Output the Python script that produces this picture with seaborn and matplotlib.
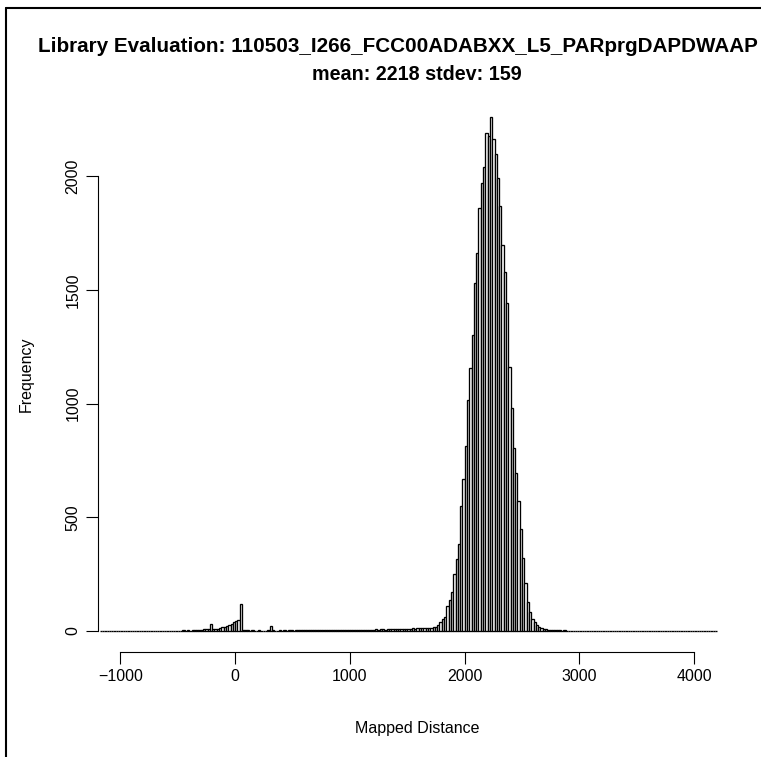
import numpy as np
import pandas as pd
import matplotlib
matplotlib.use("Agg")
import matplotlib.pyplot as plt
import seaborn as sns
from matplotlib.lines import Line2D

# ---------------- data (20-unit bins, counts) -------------
bin_width = 20

left_tail_start = -1180
left_tail_counts = [1, 0, 0, 1, 0, 0, 1, 0, 1, 0,
                    0, 1, 0, 1, 0, 1, 1, 0, 1, 0,
                    1, 1, 0, 1, 1, 1, 2, 1, 1, 2,
                    1, 2, 1, 2, 2, 2, 3, 2, 3]

near_zero_start = -400
near_zero_counts = [2, 3, 3, 4, 5, 6, 8, 9, 10, 32,
                    10, 8, 9, 12, 17, 19, 22, 28, 33, 40,
                    44, 47, 117, 6, 5]

plateau_start = 100
plateau_counts = [3, 2, 3, 2, 2, 3, 2, 2, 1, 3,
                  24, 3, 2, 2, 3, 2, 3, 2, 3, 3,
                  2, 3, 4, 3, 3, 4, 3, 4, 3, 4,
                  4, 3, 4, 5, 4, 4, 5, 4, 5, 5,
                  4, 5, 5, 6, 5, 5, 6, 5, 6, 6,
                  5, 6, 6, 5, 6, 6, 7, 6, 7, 7,
                  6, 7, 8, 7, 8, 9, 8, 9, 10, 9,
                  11, 10, 12, 11, 13, 12, 14, 13, 13, 14]

peak_start = 1700
peak_counts = [14, 16, 19, 26, 38, 51, 63, 110, 136, 173,
               249, 315, 381, 551, 667, 813, 1015, 1157, 1301, 1531,
               1663, 1858, 1968, 2038, 2190, 2176, 2258, 2161, 2097, 1990,
               1868, 1697, 1579, 1440, 1162, 979, 803, 693, 573, 447,
               319, 209, 129, 85, 51, 41, 26, 16, 12, 9,
               7, 6, 5, 4, 4]

right_tail_start = 2800
right_tail_counts = [3, 3, 2, 3, 2, 2, 2, 1, 2, 1,
                     2, 1, 1, 1, 2, 1, 1, 1, 0, 1,
                     1, 1, 0, 1, 1, 0, 1, 1, 0, 1,
                     0, 1, 1, 0, 1, 0, 0, 1, 0, 1,
                     0, 0, 1, 0, 0, 1, 0, 0, 1, 0,
                     0, 0, 1, 0, 0, 1, 0, 0, 0, 1,
                     0, 0, 0, 1, 0, 0, 0, 1, 0, 0]

x_ticks = [-1000, 0, 1000, 2000, 3000, 4000]
y_ticks = [0, 500, 1000, 1500, 2000]

title_line1 = "Library Evaluation: 110503_I266_FCC00ADABXX_L5_PARprgDAPDWAAP"
title_line2 = "mean: 2218 stdev: 159"
x_label = "Mapped Distance"
y_label = "Frequency"

# ---------------- build table ----------------
segments = [(left_tail_start, left_tail_counts),
            (near_zero_start, near_zero_counts),
            (plateau_start, plateau_counts),
            (peak_start, peak_counts),
            (right_tail_start, right_tail_counts)]
centers, counts = [], []
for start, vals in segments:
    for i, v in enumerate(vals):
        centers.append(start + bin_width * (i + 0.5))
        counts.append(v)
df = pd.DataFrame({"distance": centers, "count": counts})
range_end = right_tail_start + bin_width * len(right_tail_counts)

# ---------------- figure ----------------
sns.set_style("ticks")
plt.rcParams["font.family"] = ["Liberation Sans", "DejaVu Sans"]
plt.rcParams["text.color"] = "black"
plt.rcParams["axes.labelcolor"] = "black"

W, H = 761, 757
fig = plt.figure(figsize=(W / 100, H / 100), dpi=100)
ax_l, ax_r, ax_t, ax_b = 98, 736, 97.5, 651.5
ax = fig.add_axes([ax_l / W, 1 - ax_b / H, (ax_r - ax_l) / W, (ax_b - ax_t) / H])

sns.histplot(data=df, x="distance", weights="count",
             binwidth=bin_width, binrange=(left_tail_start, range_end),
             color="white", edgecolor="black", linewidth=0.95, alpha=1,
             ax=ax)

ax.set_xlim(-1195, 4364)
ax.set_ylim(-90, 2345)
ax.set_facecolor("white")
for s in ["top", "right"]:
    ax.spines[s].set_visible(False)
ax.spines["left"].set_bounds(0, 2000)
ax.spines["bottom"].set_bounds(-1000, 4000)
for s in ["left", "bottom"]:
    ax.spines[s].set_color("black")
    ax.spines[s].set_linewidth(0.8)

ax.set_xticks(x_ticks)
ax.set_xticklabels(["\u22121000" if t < 0 else str(t) for t in x_ticks])
ax.set_yticks(y_ticks)
ax.set_yticklabels([str(t) for t in y_ticks], rotation=90, va="center")
ax.tick_params(axis="both", direction="out", length=8.6, width=0.8,
               color="black", labelsize=11.5, labelcolor="black", pad=4)

ax.set_xlabel(x_label, fontsize=11.5, color="black")
ax.set_ylabel(y_label, fontsize=11.5, color="black")
ax.xaxis.set_label_coords((417 - ax_l) / (ax_r - ax_l), (ax_b - 729) / (ax_b - ax_t))
ax.xaxis.label.set_va("center")
ax.yaxis.set_label_coords((26 - ax_l) / (ax_r - ax_l), 0.5)
ax.yaxis.label.set_va("center")
ax.yaxis.label.set_ha("center")

fig.text(38 / W, 1 - 47 / H, title_line1, ha="left", va="center",
         fontsize=14.9, fontweight="bold", color="black")
fig.text(417 / W, 1 - 75 / H, title_line2, ha="center", va="center",
         fontsize=14.2, fontweight="bold", color="black")

# outer frame (left and top edges visible in the crop)
fig.add_artist(Line2D([6 / W, 6 / W], [0, 1 - 8 / H], transform=fig.transFigure,
                      color="black", lw=1.5))
fig.add_artist(Line2D([6 / W, 1], [1 - 8 / H, 1 - 8 / H], transform=fig.transFigure,
                      color="black", lw=1.5))

fig.savefig("out.png", dpi=100, facecolor="white")
